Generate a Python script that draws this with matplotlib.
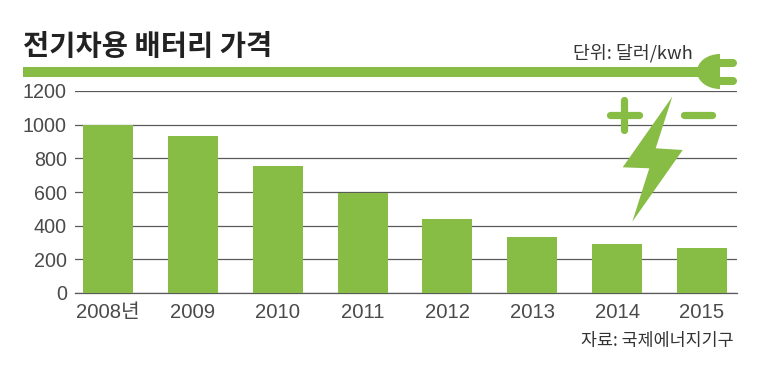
import matplotlib
matplotlib.use('Agg')
import matplotlib.pyplot as plt
from matplotlib.patches import Polygon, Rectangle, Ellipse

years = ['2008년', '2009', '2010', '2011', '2012', '2013', '2014', '2015']
prices = [1000, 935, 755, 595, 440, 330, 293, 270]
yticks = [0, 200, 400, 600, 800, 1000, 1200]

GREEN = '#87bc45'
W, H = 767, 370
latin = ['Liberation Sans', 'Noto Sans CJK KR']
korean = ['Noto Sans CJK KR', 'Liberation Sans']

fig = plt.figure(figsize=(W / 100, H / 100), dpi=100, facecolor='white')

# plot area placed by pixels: 75..737 across, 91..293 down
ax = fig.add_axes([75 / W, 1 - 293 / H, 662 / W, 202 / H])
ax.bar(range(len(years)), prices, width=0.59, color=GREEN, zorder=3)
ax.set_xlim(-0.389, 7.412)
ax.set_ylim(0, 1200)
ax.set_yticks(yticks)
ax.set_xticks(range(len(years)))
ax.set_xticklabels(years)
ax.grid(axis='y', color='#5a5a5a', lw=0.9, zorder=1)
ax.set_axisbelow(True)
ax.tick_params(length=0)
ax.tick_params(axis='y', pad=5.8, labelcolor='#4a4a4a', labelsize=14.2)
ax.tick_params(axis='x', pad=7.5, labelcolor='#4a4a4a', labelsize=14.6)
for lab in ax.get_xticklabels() + ax.get_yticklabels():
    lab.set_family(latin)
for name in ['top', 'right', 'left']:
    ax.spines[name].set_visible(False)
ax.spines['bottom'].set_color('#5a5a5a')
ax.spines['bottom'].set_linewidth(0.9)
ax.patch.set_alpha(0)

# overlay in pixel coordinates for the header, plug and bolt
over = fig.add_axes([0, 0, 1, 1], zorder=5)
over.set_xlim(0, W)
over.set_ylim(H, 0)
over.axis('off')

over.add_patch(Rectangle((23, 67), 680, 10, color=GREEN, lw=0))

# plug head, cut flat on the right
head = Ellipse((720, 71.5), 46, 35, color=GREEN, lw=0)
over.add_patch(head)
head.set_clip_path(Rectangle((690, 50), 30, 44, transform=over.transData))
for y in [63.3, 80.5]:
    over.plot([719, 733], [y, y], color=GREEN, lw=5.8, solid_capstyle='round')

# bolt
over.add_patch(Polygon([(672.3, 96.7), (655.7, 148.3), (682.7, 150), (632.3, 221.7),
                        (649.3, 168.3), (622.7, 167.3)], closed=True, color=GREEN, lw=0))
# plus and minus
over.plot([610, 639], [115, 115], color=GREEN, lw=5.2, solid_capstyle='round')
over.plot([624, 624], [100, 130], color=GREEN, lw=5.2, solid_capstyle='round')
over.plot([684, 712], [115, 115], color=GREEN, lw=5.2, solid_capstyle='round')

over.text(23, 47.5, '전기차용 배터리 가격', family=korean, fontsize=20.5, weight='bold',
          color='#222222', ha='left', va='center')
over.text(693, 53, '단위: 달러/kwh', family=korean, fontsize=13.2, color='#333333',
          ha='right', va='center')
over.text(734, 341, '자료: 국제에너지기구', family=korean, fontsize=12.5, color='#333333',
          ha='right', va='center')

plt.savefig('out.png', dpi=100)
